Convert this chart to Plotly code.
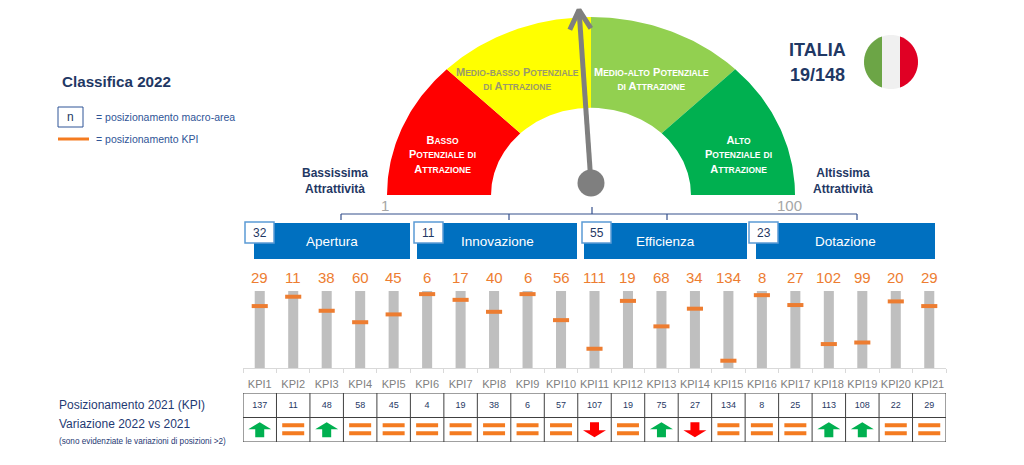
import math
import plotly.graph_objects as go

W, H = 1024, 465

# ---- data ----
kpis = ["KPI%d" % i for i in range(1, 22)]
pos_2022 = [29, 11, 38, 60, 45, 6, 17, 40, 6, 56, 111, 19, 68, 34, 134, 8, 27, 102, 99, 20, 29]
pos_2021 = [137, 11, 48, 58, 45, 4, 19, 38, 6, 57, 107, 19, 75, 27, 134, 8, 25, 113, 108, 22, 29]
n_countries = 148
country = "ITALIA"
country_rank = 19

areas = ["Apertura", "Innovazione", "Efficienza", "Dotazione"]
area_rank = [32, 11, 55, 23]

gauge_bands = ["Basso<br>Potenziale di<br>Attrazione",
               "Medio-basso Potenziale<br>di Attrazione",
               "Medio-alto Potenziale<br>di Attrazione",
               "Alto<br>Potenziale di<br>Attrazione"]
gauge_breaks = [1, 25.75, 50.5, 75.25, 100]
gauge_colors = ["#FF0000", "#FFFF00", "#92D050", "#00B050"]
gauge_text_colors = ["white", "#9A9A6A", "white", "white"]
needle_value = 48.6

# ---- styles ----
ARIAL = "Liberation Sans, Arial, sans-serif"
NAVY = "#1F3864"
BLUE = "#0070C0"
ORANGE = "#ED7D31"
BAR_GRAY = "#BFBFBF"


def px(x):
    return x / W


def py(y):
    return 1 - y / H


annotations = []
shapes = []


def txt(x, y, s, size, color, xanchor="center"):
    annotations.append(dict(x=px(x), y=py(y), xref="paper", yref="paper", text=s,
                            showarrow=False, xanchor=xanchor, yanchor="middle",
                            font=dict(family=ARIAL, size=size, color=color)))


def small_caps(s, small):
    lines = []
    for part in s.split("<br>"):
        line, run = "", ""
        for ch in part:
            if ch.islower():
                run += ch.upper()
            else:
                if run:
                    line += "<span style='font-size:%spx'>%s</span>" % (small, run)
                    run = ""
                line += ch
        if run:
            line += "<span style='font-size:%spx'>%s</span>" % (small, run)
        lines.append("<b>" + line + "</b>")
    return "<br>".join(lines)


fig = go.Figure()
idx = list(range(len(kpis)))

# ---- KPI bars and markers ----
fig.add_trace(go.Bar(x=idx, y=[n_countries] * len(kpis), base=0, width=0.3,
                     marker=dict(color=BAR_GRAY, line=dict(width=0)),
                     xaxis="x", yaxis="y", hoverinfo="skip"))
fig.add_trace(go.Scatter(x=idx, y=pos_2022, mode="markers", xaxis="x", yaxis="y",
                         marker=dict(symbol="line-ew", size=11.5,
                                     line=dict(width=4, color=ORANGE)),
                         hoverinfo="skip"))
for i, v in enumerate(pos_2022):
    annotations.append(dict(x=i, xref="x", y=py(277), yref="paper", text=str(v),
                            showarrow=False, yanchor="middle",
                            font=dict(family=ARIAL, size=15, color=ORANGE)))

# ---- table (2021 positions and variation) ----
fig.add_trace(go.Scatter(x=idx, y=[0.5] * len(kpis), mode="text",
                         text=[str(v) for v in pos_2021], xaxis="x", yaxis="y2",
                         textfont=dict(family=ARIAL, size=9, color=NAVY),
                         hoverinfo="skip"))

CW, RH = 33.5, 24.5  # pixels per table unit
up_shape = [(0, -7.5), (11.5, -0.5), (4.5, -0.5), (4.5, 7.5), (-4.5, 7.5), (-4.5, -0.5), (-11.5, -0.5)]
eq_shapes = [[(-11, -6.5), (11, -6.5), (11, -2.5), (-11, -2.5)],
             [(-11, 1.5), (11, 1.5), (11, 5.5), (-11, 5.5)]]
groups = {"up": ([], [], "#00B050"), "down": ([], [], "#FF0000"), "eq": ([], [], "#F47B20")}
for i, (a, b) in enumerate(zip(pos_2021, pos_2022)):
    d = a - b
    if d > 2:
        kind, polys = "up", [up_shape]
    elif d < -2:
        kind, polys = "down", [[(dx, -dy) for dx, dy in up_shape]]
    else:
        kind, polys = "eq", eq_shapes
    gx, gy, _ = groups[kind]
    for poly in polys:
        for dx, dy in poly + [poly[0]]:
            gx.append(i + dx / CW)
            gy.append(1.5 + dy / RH)
        gx.append(None)
        gy.append(None)
for gx, gy, col in groups.values():
    fig.add_trace(go.Scatter(x=gx, y=gy, mode="lines", fill="toself", fillcolor=col,
                             line=dict(width=0, color=col), xaxis="x", yaxis="y2",
                             hoverinfo="skip"))

for r in range(3):
    shapes.append(dict(type="line", xref="x", yref="y2", x0=-0.5, x1=len(kpis) - 0.5,
                       y0=r, y1=r, line=dict(color="#404040", width=1)))
for c in range(len(kpis) + 1):
    shapes.append(dict(type="line", xref="x", yref="y2", x0=c - 0.5, x1=c - 0.5,
                       y0=0, y1=2, line=dict(color="#404040", width=1)))

# ---- gauge ----
def ang(v):
    return math.pi * (1 - (v - 1) / 99)


R_OUT, R_IN = 1.0, 0.49
for k in range(len(gauge_colors)):
    a0, a1 = ang(gauge_breaks[k]), ang(gauge_breaks[k + 1])
    ts = [a0 + (a1 - a0) * j / 60 for j in range(61)]
    xs = [R_OUT * math.cos(t) for t in ts] + [R_IN * math.cos(t) for t in reversed(ts)]
    ys = [R_OUT * math.sin(t) for t in ts] + [R_IN * math.sin(t) for t in reversed(ts)]
    fig.add_trace(go.Scatter(x=xs + [xs[0]], y=ys + [ys[0]], mode="lines", fill="toself",
                             fillcolor=gauge_colors[k], line=dict(width=0),
                             xaxis="x3", yaxis="y3", hoverinfo="skip"))

SX, SY = 204.0, 178.0  # pixels per gauge unit
pivot = (0.0, 0.067)
t = ang(needle_value)
tip = (pivot[0] + 0.975 * math.cos(t), pivot[1] + 0.975 * math.sin(t))
dxp, dyp = math.cos(t) * SX, math.sin(t) * SY
norm = math.hypot(dxp, dyp)
bx, by = -dxp / norm, -dyp / norm
arms = []
for s in (1, -1):
    ca, sa = math.cos(s * 0.5), math.sin(s * 0.5)
    ax_ = bx * ca - by * sa
    ay_ = bx * sa + by * ca
    arms.append((tip[0] + 22 * ax_ / SX, tip[1] + 22 * ay_ / SY))
fig.add_trace(go.Scatter(x=[pivot[0], tip[0], None, arms[0][0], tip[0], arms[1][0]],
                         y=[pivot[1], tip[1], None, arms[0][1], tip[1], arms[1][1]],
                         mode="lines", line=dict(color="#7F7F7F", width=5),
                         xaxis="x3", yaxis="y3", hoverinfo="skip"))
fig.add_trace(go.Scatter(x=[pivot[0]], y=[pivot[1]], mode="markers",
                         marker=dict(size=27, color="#7F7F7F"),
                         xaxis="x3", yaxis="y3", hoverinfo="skip"))

label_pos = [(442, 155), (517, 79), (651, 79), (738, 155)]
for (lx, ly), s, col in zip(label_pos, gauge_bands, gauge_text_colors):
    txt(lx, ly, small_caps(s, 8.5), 11, col)

txt(385, 205, "1", 15, "#A6A6A6")
txt(789, 205, "100", 15, "#A6A6A6")

# bracket
BR = "#34508C"
shapes.append(dict(type="line", xref="paper", yref="paper", x0=px(341), x1=px(857),
                   y0=py(214), y1=py(214), line=dict(color=BR, width=1.2)))
for bxp in (341, 509, 667, 857):
    shapes.append(dict(type="line", xref="paper", yref="paper", x0=px(bxp), x1=px(bxp),
                       y0=py(214), y1=py(220), line=dict(color=BR, width=1.2)))
shapes.append(dict(type="line", xref="paper", yref="paper", x0=px(592), x1=px(592),
                   y0=py(207), y1=py(214), line=dict(color=BR, width=1.2)))

txt(335, 181, "<b>Bassissima<br>Attrattività</b>", 12, NAVY)
txt(843, 181, "<b>Altissima<br>Attrattività</b>", 12, NAVY)

# ---- area headers ----
header_px = [(254, 410), (417, 577), (584, 747), (756, 935)]
box_left = [245, 414, 582, 749]
for (x0, x1), bl, name, rk in zip(header_px, box_left, areas, area_rank):
    shapes.append(dict(type="rect", xref="paper", yref="paper", x0=px(x0), x1=px(x1),
                       y0=py(259), y1=py(223), fillcolor=BLUE, line=dict(width=0)))
    shapes.append(dict(type="rect", xref="paper", yref="paper", x0=px(bl), x1=px(bl + 29),
                       y0=py(243), y1=py(222), fillcolor="white",
                       line=dict(color="#5B9BD5", width=1.5)))
    txt((x0 + x1) / 2, 242, name, 13.5, "white")
    txt(bl + 14.5, 233, str(rk), 12, NAVY)

# ---- country + flag ----
txt(817, 50, "<b>%s</b>" % country, 18, NAVY)
txt(817, 75, "<b>%d/%d</b>" % (country_rank, n_countries), 18, NAVY)

FCX, FCY, FR = 891, 62, 27


def arc(a0, a1, n=30):
    return [(FCX + FR * math.cos(a0 + (a1 - a0) * j / n),
             FCY - FR * math.sin(a0 + (a1 - a0) * j / n)) for j in range(n + 1)]


def path(pts):
    return "M " + " L ".join("%.5f,%.5f" % (px(a), py(b)) for a, b in pts) + " Z"


c1 = math.acos(-1 / 3)
c2 = math.acos(1 / 3)
flag_parts = [
    (arc(c1, 2 * math.pi - c1), "#6CA546"),
    (arc(c2, c1) + arc(2 * math.pi - c1, 2 * math.pi - c2), "#F0F0F0"),
    (arc(-c2, c2), "#E00024"),
]
for pts, col in flag_parts:
    shapes.append(dict(type="path", xref="paper", yref="paper", path=path(pts),
                       fillcolor=col, line=dict(width=0)))

# ---- left legend and texts ----
txt(60, 81, "<b>Classifica 2022</b>", 15.2, NAVY, xanchor="left")
shapes.append(dict(type="rect", xref="paper", yref="paper", x0=px(58), x1=px(83),
                   y0=py(127), y1=py(107), line=dict(color="#2F5597", width=1)))
txt(70.5, 117, "n", 12, NAVY)
txt(94, 117, "= posizionamento macro-area", 10.5, "#2F5597", xanchor="left")
shapes.append(dict(type="line", xref="paper", yref="paper", x0=px(58), x1=px(89),
                   y0=py(139), y1=py(139), line=dict(color="#F47B20", width=3)))
txt(94, 139, "= posizionamento KPI", 10.5, "#2F5597", xanchor="left")

txt(57, 405, "Posizionamento 2021 (KPI)", 12, "#1F3A73", xanchor="left")
txt(57, 424, "Variazione 2022 vs 2021", 12, "#1F3A73", xanchor="left")
txt(57, 441, "(sono evidenziate le variazioni di posizioni >2)", 8.2, "#1F3A73", xanchor="left")

# ---- layout ----
g_x0 = 591 - 1.05 * SX
g_x1 = 591 + 1.05 * SX
fig.update_layout(
    width=W, height=H, margin=dict(l=0, r=0, t=0, b=0),
    paper_bgcolor="white", plot_bgcolor="rgba(0,0,0,0)",
    showlegend=False, barmode="overlay",
    xaxis=dict(domain=[px(243), px(946)], range=[-0.5, len(kpis) - 0.5], anchor="y",
               tickmode="array", tickvals=idx, ticktext=kpis,
               tickfont=dict(family=ARIAL, size=11, color="#808080"),
               ticks="", ticklabelstandoff=6, showgrid=False, zeroline=False,
               showline=True, linecolor="#D9D9D9", linewidth=1, fixedrange=True,
               minor=dict(tickmode="array", tickvals=[i - 0.5 for i in range(len(kpis) + 1)],
                          ticks="outside", ticklen=4, tickcolor="#D9D9D9", tickwidth=1,
                          showgrid=False)),
    yaxis=dict(domain=[py(368), py(291)], range=[n_countries, 0], visible=False,
               anchor="x", fixedrange=True),
    yaxis2=dict(domain=[py(442), py(393)], range=[2, 0], visible=False, anchor="x",
                fixedrange=True),
    xaxis3=dict(domain=[px(g_x0), px(g_x1)], range=[-1.05, 1.05], visible=False,
                anchor="y3", fixedrange=True),
    yaxis3=dict(domain=[py(195 + 0.1 * SY), py(195 - 1.09 * SY)], range=[-0.1, 1.09],
                visible=False, anchor="x3", fixedrange=True),
    annotations=annotations, shapes=shapes,
)

fig.write_html("out.html", config={"displayModeBar": False},
               post_script="document.body.style.margin='0';")
